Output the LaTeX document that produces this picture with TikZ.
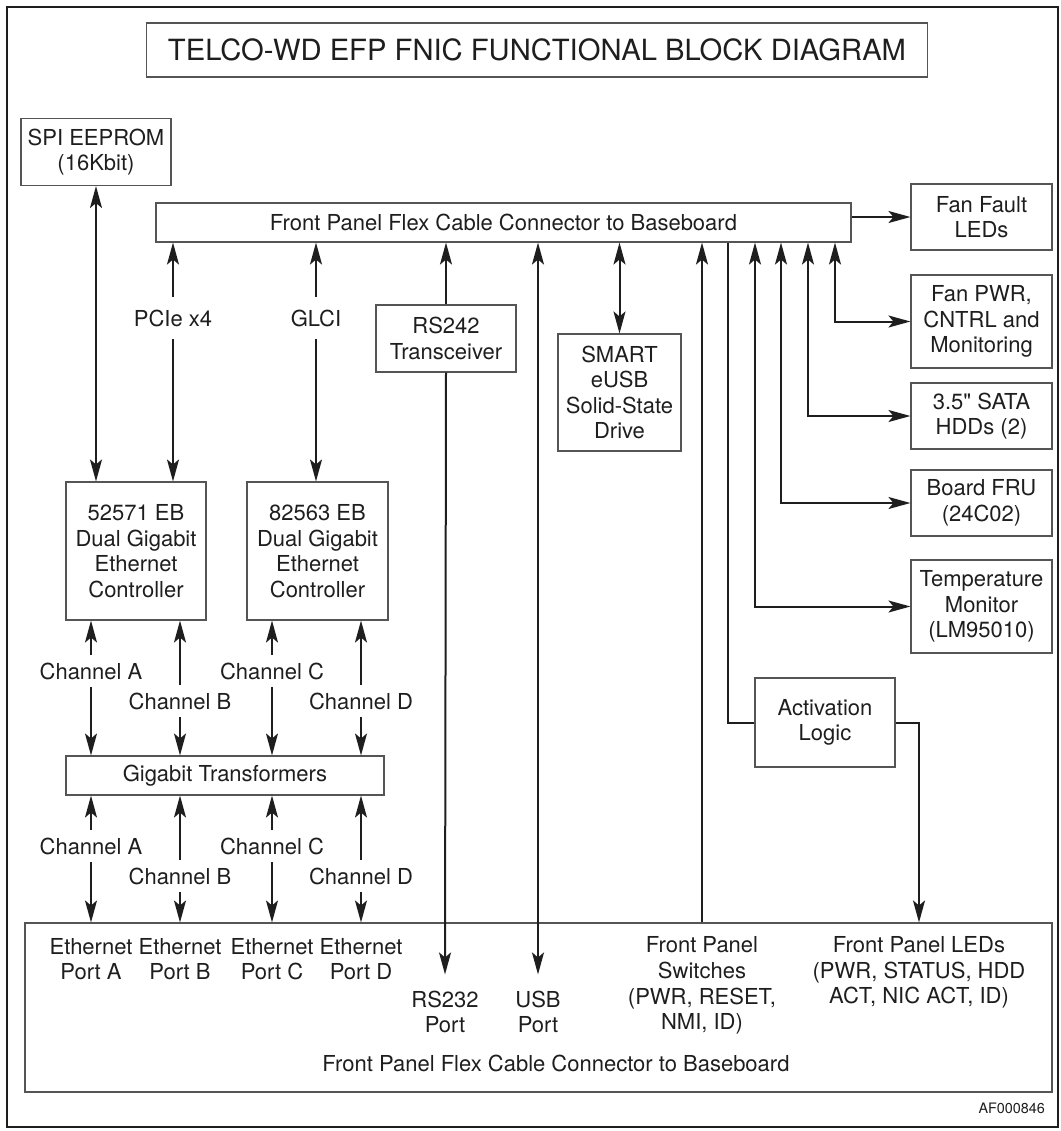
\documentclass[tikz,border=0pt]{standalone}
\usepackage{fontspec}
\setmainfont{TeX Gyre Heros}
\usepackage{tikz}
\usetikzlibrary{arrows.meta}
\definecolor{ink}{RGB}{30, 30, 30}
\definecolor{rulegray}{RGB}{85, 85, 85}

\begin{document}
\begin{tikzpicture}[x=0.5pt, y=-0.5pt,
    every node/.style={font=\fontsize{11}{12.8}\selectfont, text=ink},
    blk/.style={draw=rulegray, line width=0.55pt, inner sep=0pt, align=center},
    wire/.style={draw=ink, line width=1pt},
    sig/.style={wire, -{Stealth[length=11pt, width=6pt, inset=2.5pt]}},
    bus/.style={wire, {Stealth[length=11pt, width=6pt, inset=2.5pt]}-{Stealth[length=11pt, width=6pt, inset=2.5pt]}},
    chan/.style={inner sep=3.5pt},
    port/.style={align=center, inner xsep=0pt, inner ysep=8pt}]
    \useasboundingbox (0,0) rectangle (1061,1131);
    \draw[ink, line width=1.25pt] (7,7) rectangle (1058,1127);

    % title and the two flex cable connectors
    \node[blk, minimum width=390.5pt, minimum height=27pt, font=\fontsize{14.6}{17}\selectfont] (title) at (537,50) {TELCO-WD EFP FNIC FUNCTIONAL BLOCK DIAGRAM};
    \node[blk, minimum width=347.5pt, minimum height=19.5pt] (bar) at (503.5,222.5) {Front Panel Flex Cable Connector to Baseboard};
    \node[blk, minimum width=513.5pt, minimum height=84.5pt] (panel) at (538.5,1007.5) {};
    \node (panelcap) at (556,1063) {Front Panel Flex Cable Connector to Baseboard};

    % left column
    \node[blk, minimum width=75pt, minimum height=33.5pt] (spi) at (96,152) {SPI EEPROM\\(16Kbit)};
    \node[blk, minimum width=70pt, minimum height=69pt] (ctrlA) at (136,551) {52571 EB\\Dual Gigabit\\Ethernet\\Controller};
    \node[blk, minimum width=70.5pt, minimum height=69pt] (ctrlB) at (317.5,551) {82563 EB\\Dual Gigabit\\Ethernet\\Controller};
    \node[blk, minimum width=159pt, minimum height=19.5pt] (xfmr) at (225,775.5) {Gigabit Transformers};
    \node[blk, minimum width=70pt, minimum height=33.5pt] (rs) at (446,338.5) {RS242\\Transceiver};
    \node[blk, minimum width=61.5pt, minimum height=58.5pt] (smart) at (619.5,392.5) {SMART\\eUSB\\Solid-State\\Drive};

    % right column
    \node[blk, minimum width=70.5pt, minimum height=33pt] (fanled) at (981.5,217) {Fan Fault\\LEDs};
    \node[blk, minimum width=70.5pt, minimum height=46.5pt] (fanpwr) at (981.5,321.5) {Fan PWR,\\CNTRL and\\Monitoring};
    \node[blk, minimum width=70.5pt, minimum height=33pt] (sata) at (981.5,416) {3.5\textquotedbl{} SATA\\HDDs (2)};
    \node[blk, minimum width=70.5pt, minimum height=33pt] (fru) at (981.5,503) {Board FRU\\(24C02)};
    \node[blk, minimum width=70.5pt, minimum height=46.5pt] (temp) at (981.5,606.5) {Temperature\\Monitor\\(LM95010)};
    \node[blk, minimum width=70pt, minimum height=44.5pt] (act) at (825,722.5) {Activation\\Logic};

    % labels on the links
    \node[inner sep=6pt] (pcie) at (173,318) {PCIe x4};
    \node[inner sep=6pt] (glci) at (316,318) {GLCI};
    \node[chan] (chA1) at (91,671) {Channel A};
    \node[chan] (chB1) at (180,701) {Channel B};
    \node[chan] (chC1) at (272,671) {Channel C};
    \node[chan] (chD1) at (361,701) {Channel D};
    \node[chan] (chA2) at (91,846) {Channel A};
    \node[chan] (chB2) at (180,876) {Channel B};
    \node[chan] (chC2) at (272,846) {Channel C};
    \node[chan] (chD2) at (361,876) {Channel D};

    % what sits on the front panel
    \node[align=center] (ethA) at (91,959) {Ethernet\\Port A};
    \node[align=center] (ethB) at (180,959) {Ethernet\\Port B};
    \node[align=center] (ethC) at (272,959) {Ethernet\\Port C};
    \node[align=center] (ethD) at (361,959) {Ethernet\\Port D};
    \node[port] (rsport) at (445,1012) {RS232\\Port};
    \node[port] (usbport) at (538,1012) {USB\\Port};
    \node[align=center] (switches) at (702,985.5) {Front Panel\\Switches\\(PWR, RESET,\\NMI, ID)};
    \node[align=center] (leds) at (919,972.5) {Front Panel LEDs\\(PWR, STATUS, HDD\\ACT, NIC ACT, ID)};
    \node[anchor=east, font=\fontsize{7.2}{8}\selectfont] (tag) at (1052,1108) {AF000846};

    % drop points along the upper connector
    \coordinate (xact) at (728,0);
    \coordinate (xtemp) at (755,0);
    \coordinate (xfru) at (781,0);
    \coordinate (xsata) at (808,0);
    \coordinate (xpwr) at (835,0);

    % links
    \draw[bus] (spi.south) -- (spi.south |- ctrlA.north);
    \draw[sig] (pcie.north) -- (pcie.north |- bar.south);
    \draw[sig] (pcie.south) -- (pcie.south |- ctrlA.north);
    \draw[sig] (glci.north) -- (glci.north |- bar.south);
    \draw[sig] (glci.south) -- (glci.south |- ctrlB.north);
    \draw[sig] (rs.north) -- (rs.north |- bar.south);
    \draw[sig] (rs.south) -- (rsport.north);
    \draw[bus] (usbport.north |- bar.south) -- (usbport.north);
    \draw[bus] (bar.south -| smart.north) -- (smart.north);
    \draw[sig] (switches.north |- panel.north) -- (switches.north |- bar.south);
    \draw[sig] (bar.east |- fanled.west) -- (fanled.west);
    \draw[bus] (bar.south -| xpwr) |- (fanpwr.west);
    \draw[bus] (bar.south -| xsata) |- (sata.west);
    \draw[bus] (bar.south -| xfru) |- (fru.west);
    \draw[bus] (bar.south -| xtemp) |- (temp.west);
    \draw[wire] (bar.south -| xact) |- (act.west);
    \draw[sig] (act.east) -| (leds.north |- panel.north);

    \draw[sig] (chA1.north) -- (chA1.north |- ctrlA.south);
    \draw[sig] (chA1.south) -- (chA1.south |- xfmr.north);
    \draw[sig] (chB1.north) -- (chB1.north |- ctrlA.south);
    \draw[sig] (chB1.south) -- (chB1.south |- xfmr.north);
    \draw[sig] (chC1.north) -- (chC1.north |- ctrlB.south);
    \draw[sig] (chC1.south) -- (chC1.south |- xfmr.north);
    \draw[sig] (chD1.north) -- (chD1.north |- ctrlB.south);
    \draw[sig] (chD1.south) -- (chD1.south |- xfmr.north);
    \draw[sig] (chA2.north) -- (chA2.north |- xfmr.south);
    \draw[sig] (chA2.south) -- (chA2.south |- panel.north);
    \draw[sig] (chB2.north) -- (chB2.north |- xfmr.south);
    \draw[sig] (chB2.south) -- (chB2.south |- panel.north);
    \draw[sig] (chC2.north) -- (chC2.north |- xfmr.south);
    \draw[sig] (chC2.south) -- (chC2.south |- panel.north);
    \draw[sig] (chD2.north) -- (chD2.north |- xfmr.south);
    \draw[sig] (chD2.south) -- (chD2.south |- panel.north);
\end{tikzpicture}
\end{document}
